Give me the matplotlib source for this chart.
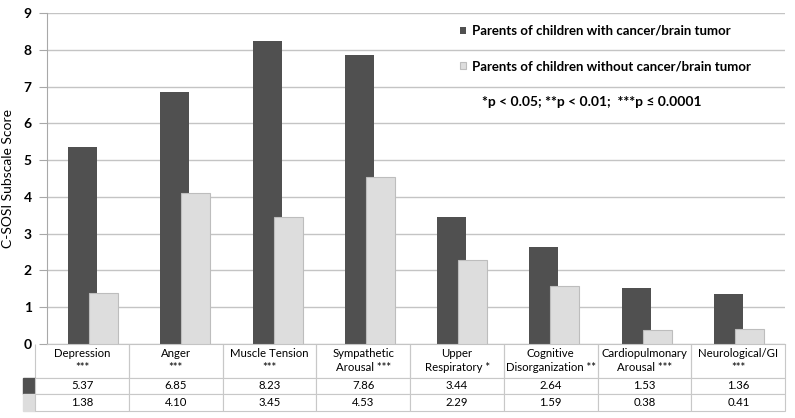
import numpy as np
import matplotlib
matplotlib.use('Agg')
import matplotlib.pyplot as plt

plt.rcParams['font.family'] = ['Lato', 'DejaVu Sans']

# data
categories = ['Depression\n***', 'Anger\n***', 'Muscle Tension\n***', 'Sympathetic\nArousal ***',
              'Upper\nRespiratory *', 'Cognitive\nDisorganization **', 'Cardiopulmonary\nArousal ***',
              'Neurological/GI\n***']
cancer = [5.37, 6.85, 8.23, 7.86, 3.44, 2.64, 1.53, 1.36]
control = [1.38, 4.10, 3.45, 4.53, 2.29, 1.59, 0.38, 0.41]
series_names = ['Parents of children with cancer/brain tumor',
                'Parents of children without cancer/brain tumor']

dark = '#505050'
light = '#DDDDDD'
grid_c = '#C4C4C4'

fig = plt.figure(figsize=(7.95, 4.18), dpi=100)
W, H = 795, 418
ax = fig.add_axes([47 / W, (H - 344) / H, 738 / W, 331 / H])

x = np.arange(len(categories))
bw = 0.315
ax.bar(x - 0.114, cancer, bw, color=dark, zorder=2, label=series_names[0])
ax.bar(x + 0.114, control, bw, color=light, edgecolor='#BDBDBD', linewidth=0.8,
       zorder=3, label=series_names[1])

ax.set_xlim(-0.5, 7.5)
ax.set_ylim(0, 9)
ax.set_yticks(range(10))
ax.yaxis.grid(True, color=grid_c, linewidth=1, zorder=0)
ax.set_axisbelow(True)
ax.set_xticks([])
for s in ['top', 'right']:
    ax.spines[s].set_visible(False)
ax.spines['left'].set_color('#A8A8A8')
ax.spines['bottom'].set_color(grid_c)
ax.tick_params(axis='y', length=6, color='#A8A8A8', labelsize=10, pad=5)
for lbl in ax.get_yticklabels():
    lbl.set_fontweight('bold')
ax.set_ylabel('C-SOSI Subscale Score', fontsize=10, labelpad=7)

leg = ax.legend(loc='upper left', bbox_to_anchor=(448 / W, 1 - 13 / H),
                bbox_transform=fig.transFigure, frameon=False, fontsize=9.5,
                handlelength=0.45, handleheight=0.45, handletextpad=0.5,
                labelspacing=1.8)
for t in leg.get_texts():
    t.set_fontweight('bold')

fig.text(482 / W, 1 - 102 / H, '*p < 0.05; **p < 0.01;  ***p \u2264 0.0001',
         fontsize=10, va='center', fontweight='bold')

# data table under the axes
cell_text = [['%.2f' % v for v in cancer], ['%.2f' % v for v in control]]
tbl = ax.table(cellText=cell_text, colLabels=categories, colWidths=[1 / 8] * 8,
               cellLoc='center', colLoc='center',
               bbox=[-12 / 738, -67 / 331, 750 / 738, 67 / 331])
row_h = tbl[1, 0].get_height()
for r, col in [(1, dark), (2, light)]:
    tbl.add_cell(r, -1, width=12 / 738, height=row_h, text='',
                 facecolor=col, edgecolor=col)
tbl.auto_set_font_size(False)
tbl.set_fontsize(8.2)
for (r, c), cell in tbl.get_celld().items():
    if c == -1:
        continue
    cell.set_edgecolor('#C8C8C8')
    cell.set_linewidth(0.8)
    if r == 0:
        cell.set_height(row_h * 2.0)
        cell.visible_edges = 'BLR'
        cell.get_text().set_linespacing(1.3)

fig.savefig('out.png', dpi=100)
